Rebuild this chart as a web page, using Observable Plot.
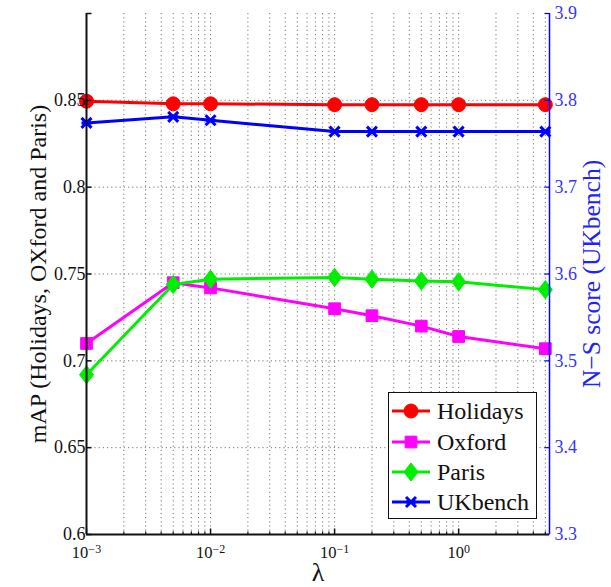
<!DOCTYPE html>
<html>
<head>
<meta charset="utf-8">
<script src="https://cdn.jsdelivr.net/npm/d3@7"></script>
<script src="https://cdn.jsdelivr.net/npm/@observablehq/plot@0.6"></script>
<style>
  html, body { margin: 0; padding: 0; background: white; }
  #wrap { position: relative; width: 611px; height: 587px; font-family: 'Liberation Serif', 'Times New Roman', Times, serif; }
  #wrap svg, #wrap svg text { font-family: 'Liberation Serif', 'Times New Roman', Times, serif !important; }
  #legend { position: absolute; left: 388px; top: 392px; width: 147px; height: 125px; border: 1.5px solid #111; background: white; }
  .entry { position: absolute; left: 2px; height: 30px; display: flex; align-items: center; font-size: 24px; color: #111; font-family: 'Liberation Serif', 'Times New Roman', Times, serif; }
  .entry svg { margin-right: 6px; }
</style>
</head>
<body>
<div id="wrap"></div>
<script>
// ---- data ----
const lambda   = [0.001, 0.005, 0.01, 0.1, 0.2, 0.5, 1, 5];
const holidays = [0.8495, 0.848, 0.848, 0.8475, 0.8475, 0.8475, 0.8475, 0.8475];
const oxford   = [0.710, 0.745, 0.742, 0.730, 0.726, 0.720, 0.714, 0.707];
const paris    = [0.692, 0.744, 0.747, 0.748, 0.747, 0.746, 0.7455, 0.741];
const ukbench  = [3.774, 3.781, 3.777, 3.764, 3.764, 3.764, 3.764, 3.764]; // N-S score, right axis

const seriesNames  = ["Holidays", "Oxford", "Paris", "UKbench"];
const seriesColors = ["#ff0000", "#ff00ff", "#00ee00", "#0000ff"];

const xDomain = [0.001, 5.4];
const yDomain = [0.6, 0.9];
const rightDomain = [3.3, 3.9];
const xTickLabels = [0.001, 0.01, 0.1, 1];
const leftTicks  = [0.6, 0.65, 0.7, 0.75, 0.8, 0.85];
const rightTicks = [3.3, 3.4, 3.5, 3.6, 3.7, 3.8, 3.9];
const yGridVals  = [0.65, 0.7, 0.75, 0.8, 0.85];

// right axis value -> left scale
const rightToLeft = v => yDomain[0] + (v - rightDomain[0]) * (yDomain[1] - yDomain[0]) / (rightDomain[1] - rightDomain[0]);

// log grid positions (1..9 per decade)
const xGrid = d3.scaleLog().domain(xDomain).ticks().filter(d => d < xDomain[1]);
const xMajor = xGrid.filter(d => Math.abs(Math.log10(d) - Math.round(Math.log10(d))) < 1e-9);

// custom symbols
const diamondSym = { draw(ctx, size) { const r = Math.sqrt(size / Math.PI); const h = r * 1.3, w = r; ctx.moveTo(0, -h); ctx.lineTo(w, 0); ctx.lineTo(0, h); ctx.lineTo(-w, 0); ctx.closePath(); } };
const timesSym = { draw(ctx, size) { const r = Math.sqrt(size / Math.PI); ctx.moveTo(-r, -r); ctx.lineTo(r, r); ctx.moveTo(r, -r); ctx.lineTo(-r, r); ctx.moveTo(-r, 0); ctx.lineTo(r, 0); } };
const tickRightSym = { draw(ctx) { ctx.moveTo(0, 0); ctx.lineTo(5, 0); } };
const tickLeftSym  = { draw(ctx) { ctx.moveTo(0, 0); ctx.lineTo(-5, 0); } };
const tickUpMajor  = { draw(ctx) { ctx.moveTo(0, 0); ctx.lineTo(0, -6); } };
const tickUpMinor  = { draw(ctx) { ctx.moveTo(0, 0); ctx.lineTo(0, -3); } };

const seriesValues = [holidays, oxford, paris, ukbench.map(rightToLeft)];
const rows = seriesValues.map(vals => lambda.map((x, i) => ({x, y: vals[i]})));

const markerSpec = [
  {symbol: "circle", r: 7, fill: true},
  {symbol: "square", r: 6.6, fill: true},
  {symbol: diamondSym, r: 7, fill: true},
  {symbol: timesSym, r: 5, fill: false}
];

const seriesMarks = [];
seriesNames.forEach((name, k) => {
  const c = seriesColors[k];
  const m = markerSpec[k];
  seriesMarks.push(Plot.line(rows[k], {x: "x", y: "y", stroke: c, strokeWidth: 3}));
  seriesMarks.push(Plot.dot(rows[k], {x: "x", y: "y", symbol: () => m.symbol, r: m.r,
    fill: m.fill ? c : "none", stroke: c, strokeWidth: m.fill ? 1 : 3}));
});

const gridStyle = {stroke: "#555", strokeWidth: 1, strokeDasharray: "1.2,3", strokeOpacity: 0.8};
const serif = "'Liberation Serif', 'Times New Roman', Times, serif";

const chart = Plot.plot({
  width: 611,
  height: 587,
  marginLeft: 86,
  marginRight: 62,
  marginTop: 13,
  marginBottom: 53,
  style: {fontFamily: serif, fontSize: "16px", background: "white", overflow: "visible"},
  x: {type: "log", domain: xDomain},
  y: {domain: yDomain},
  symbol: {legend: false},
  marks: [
    Plot.ruleX(xGrid, gridStyle),
    Plot.ruleY(yGridVals, gridStyle),
    ...seriesMarks,
    // frame
    Plot.ruleX([xDomain[0]], {stroke: "#111", strokeWidth: 2}),
    Plot.ruleY([yDomain[0]], {stroke: "#111", strokeWidth: 2}),
    Plot.ruleX([xDomain[1]], {stroke: "#0000ff", strokeWidth: 1.5}),
    // inward ticks
    Plot.dot(leftTicks.concat([0.9]), {x: () => xDomain[0], y: d => d, symbol: () => tickRightSym, r: 1, stroke: "#111", strokeWidth: 1.5}),
    Plot.dot(rightTicks.map(rightToLeft), {x: () => xDomain[1], y: d => d, symbol: () => tickLeftSym, r: 1, stroke: "#0000ff", strokeWidth: 1.2}),
    Plot.dot(xMajor, {x: d => d, y: () => yDomain[0], symbol: () => tickUpMajor, r: 1, stroke: "#111", strokeWidth: 1.5}),
    Plot.dot(xGrid.filter(d => !xMajor.includes(d)), {x: d => d, y: () => yDomain[0], symbol: () => tickUpMinor, r: 1, stroke: "#111", strokeWidth: 1.2}),
    // axes
    Plot.axisX({ticks: xTickLabels, tickSize: 0, tickPadding: 12, label: null, fontSize: 16.5, fill: "#111",
      tickFormat: d => "10^" + Math.round(Math.log10(d))}),
    Plot.axisY({anchor: "left", ticks: leftTicks, tickSize: 0, tickPadding: 1, label: null, fontSize: 18, fill: "#111",
      tickFormat: d => String(+d.toFixed(2))}),
    Plot.axisY({anchor: "right", ticks: rightTicks.map(rightToLeft), tickSize: 0, tickPadding: 5, label: null, fontSize: 18, fill: "#3535ff",
      tickFormat: d => (rightDomain[0] + (d - yDomain[0]) * (rightDomain[1] - rightDomain[0]) / (yDomain[1] - yDomain[0])).toFixed(1)}),
    // axis titles
    Plot.text(["mAP (Holidays, OXford and Paris)"], {text: d => d, frameAnchor: "left", textAnchor: "middle", lineAnchor: "middle", rotate: -90, dx: -48, fontSize: 24, fill: "#111"}),
    Plot.text(["N\u2212S score (UKbench)"], {text: d => d, frameAnchor: "right", textAnchor: "middle", lineAnchor: "middle", rotate: -90, dx: 42, fontSize: 25.5, fill: "#2222ff"}),
    Plot.text(["\u03bb"], {text: d => d, frameAnchor: "bottom", textAnchor: "middle", lineAnchor: "middle", dy: 38, fontSize: 26, fill: "#111"})
  ]
});

// superscript exponents on x tick labels
const NS = "http://www.w3.org/2000/svg";
chart.querySelectorAll('g[aria-label="x-axis tick label"] text').forEach(t => {
  const s = t.textContent;
  if (!s.startsWith("10^")) return;
  const exp = s.slice(3).replace("-", "\u2212");
  t.textContent = "";
  const base = document.createElementNS(NS, "tspan");
  base.textContent = "10";
  const sup = document.createElementNS(NS, "tspan");
  sup.setAttribute("dy", "-0.4em");
  sup.setAttribute("font-size", "12px");
  sup.textContent = exp;
  t.appendChild(base);
  t.appendChild(sup);
});

const wrap = document.getElementById("wrap");
wrap.appendChild(chart);

// legend
const legend = document.createElement("div");
legend.id = "legend";
const entryTops = [3, 34, 64, 94];
seriesNames.forEach((name, k) => {
  const e = document.createElement("div");
  e.className = "entry";
  e.style.top = entryTops[k] + "px";
  const sym = markerSpec[k].symbol;
  const symObj = typeof sym === "string" ? {circle: d3.symbolCircle, square: d3.symbolSquare}[sym] : sym;
  const path = d3.symbol(symObj, Math.PI * markerSpec[k].r * markerSpec[k].r)();
  const c = seriesColors[k];
  e.innerHTML = `<svg width="40" height="30"><line x1="1" y1="15" x2="39" y2="15" stroke="${c}" stroke-width="3"/>` +
    `<path transform="translate(20,15)" d="${path}" fill="${markerSpec[k].fill ? c : "none"}" stroke="${c}" stroke-width="${markerSpec[k].fill ? 1 : 3}"/></svg>` +
    `<span>${name}</span>`;
  legend.appendChild(e);
});
wrap.appendChild(legend);
</script>
</body>
</html>
